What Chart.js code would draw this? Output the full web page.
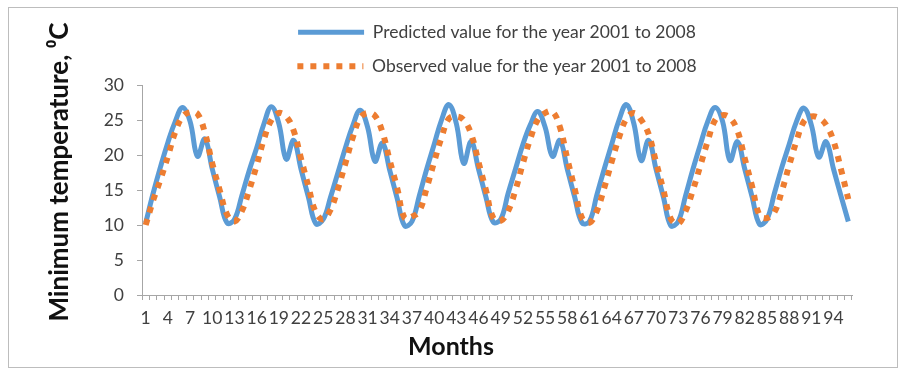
<!DOCTYPE html>
<html>
<head>
<meta charset="utf-8">
<script src="https://cdn.jsdelivr.net/npm/chart.js@4.4.1/dist/chart.umd.min.js"></script>
<style>
  html, body { margin: 0; padding: 0; background: #ffffff; }
  #wrap { position: relative; width: 904px; height: 372px; }
  #frame { position: absolute; left: 8px; top: 7px; width: 890px; height: 361px;
           border: 1px solid #bdbdbd; box-sizing: border-box; }
  canvas { position: absolute; left: 0; top: 0; }
</style>
</head>
<body>
<div id="wrap">
  <div id="frame"></div>
  <canvas id="chart" width="904" height="372"></canvas>
</div>
<script>
// Monthly minimum temperature (°C), January 2001 .. December 2008
const months = Array.from({ length: 96 }, (_, i) => String(i + 1));

const predicted = [
  10.3, 14.5, 18.3, 21.8, 24.8, 26.8, 24.8, 19.8, 22.3, 18.0, 14.0, 10.3,
  10.8, 14.2, 17.8, 21.0, 24.5, 26.9, 24.5, 19.4, 22.1, 18.0, 14.0, 10.2,
  10.8, 14.0, 17.5, 21.0, 24.2, 26.4, 24.0, 19.1, 21.7, 17.8, 13.8,  9.9,
  10.5, 14.2, 18.0, 21.5, 25.0, 27.2, 24.5, 18.8, 21.9, 18.0, 14.0, 10.4,
  10.8, 14.5, 18.0, 21.5, 24.3, 26.2, 24.0, 19.8, 22.1, 18.0, 14.0, 10.3,
  10.5, 14.3, 18.0, 21.5, 25.0, 27.2, 24.5, 19.2, 22.1, 18.0, 14.0,  9.9,
  10.5, 14.2, 18.0, 21.5, 24.8, 26.8, 24.8, 19.2, 21.9, 18.0, 14.0, 10.1,
  10.8, 14.5, 18.2, 21.5, 24.8, 26.7, 24.3, 19.7, 21.9, 18.0, 14.2, 10.5
];

const observed = [
  10.0, 13.5, 16.5, 19.8, 23.3, 25.5, 26.1, 25.9, 23.2, 18.8, 15.0, 11.5,
  10.5, 12.0, 15.0, 18.5, 22.3, 25.0, 26.0, 25.5, 23.5, 19.5, 15.5, 11.8,
  10.8, 12.2, 15.2, 18.8, 22.5, 25.3, 26.0, 25.6, 23.3, 19.2, 15.3, 11.0,
  11.2, 12.0, 15.3, 19.0, 22.5, 25.2, 25.5, 25.0, 23.0, 19.0, 15.0, 11.0,
  10.6, 12.0, 15.0, 18.8, 22.3, 25.0, 26.0, 26.2, 24.0, 19.5, 15.2, 11.0,
  10.3, 12.0, 15.3, 19.0, 22.5, 25.2, 26.0, 25.0, 23.0, 19.0, 15.0, 10.9,
  10.2, 12.0, 15.0, 18.5, 22.0, 25.0, 25.7, 25.3, 23.5, 19.5, 15.5, 11.4,
  11.0, 11.8, 14.8, 18.5, 22.0, 24.8, 25.5, 25.3, 24.3, 22.0, 18.0, 13.7
];

const yTicks = [0, 5, 10, 15, 20, 25, 30];
const seriesNames = [
  'Predicted value for the year 2001 to 2008',
  'Observed value for the year 2001 to 2008'
];
const xTitle = 'Months';
const yTitle = 'Minimum temperature, \u2070C';

const FONT = "Lato, 'DejaVu Sans', sans-serif";
const AXIS_GREY = '#a6a6a6';
const TEXT = '#404040';

// Axis titles are centred on the whole figure rather than on the plot area
const axisTitles = {
  id: 'axisTitles',
  afterDraw(chart) {
    const ctx = chart.ctx;
    ctx.save();
    ctx.fillStyle = '#111111';
    ctx.font = "bold 25px " + FONT;
    ctx.textAlign = 'center';
    ctx.textBaseline = 'alphabetic';
    ctx.fillText(xTitle, 451, 355);
    ctx.translate(68, 172);
    ctx.rotate(-Math.PI / 2);
    ctx.font = "bold 26px " + FONT;
    ctx.fillText(yTitle, 0, 0);
    ctx.restore();
  }
};

new Chart(document.getElementById('chart'), {
  type: 'line',
  data: {
    labels: months,
    datasets: [
      {
        label: seriesNames[0],
        data: predicted,
        borderColor: '#5b9bd5',
        backgroundColor: '#5b9bd5',
        borderWidth: 5,
        tension: 0.4,
        pointRadius: 0,
        pointHoverRadius: 0,
        fill: false,
        order: 1
      },
      {
        label: seriesNames[1],
        data: observed,
        borderColor: '#ed7d31',
        backgroundColor: '#ed7d31',
        borderWidth: 6,
        borderDash: [6, 7],
        borderCapStyle: 'butt',
        tension: 0.4,
        pointRadius: 0,
        pointHoverRadius: 0,
        fill: false,
        order: 0
      }
    ]
  },
  options: {
    responsive: false,
    animation: false,
    devicePixelRatio: 1,
    layout: { padding: { top: 7, left: 0, right: 52, bottom: 0 } },
    plugins: {
      tooltip: { enabled: false },
      legend: {
        position: 'top',
        fullSize: false,
        labels: {
          usePointStyle: true,
          pointStyleWidth: 66,
          padding: 16.5,
          color: TEXT,
          font: { family: FONT, size: 17.5 },
          generateLabels: (chart) => chart.data.datasets.map((ds, i) => ({
            text: ds.label,
            fillStyle: ds.borderColor,
            strokeStyle: ds.borderColor,
            lineWidth: ds.borderWidth,
            lineDash: ds.borderDash || [],
            lineCap: 'butt',
            pointStyle: 'line',
            rotation: 0,
            hidden: false,
            fontColor: TEXT,
            datasetIndex: i
          }))
        }
      }
    },
    scales: {
      x: {
        type: 'category',
        offset: true,
        grid: { display: true, drawOnChartArea: false, drawTicks: true, tickLength: 5, color: AXIS_GREY, offset: true },
        border: { display: true, color: AXIS_GREY, width: 1 },
        ticks: {
          autoSkip: false,
          maxRotation: 0,
          minRotation: 0,
          padding: 8,
          color: TEXT,
          font: { family: FONT, size: 17.5 },
          callback: (v, i) => (i % 3 === 0 ? months[i] : '')
        },
        afterFit: (s) => { s.height = 77; }
      },
      y: {
        min: 0,
        max: 30,
        afterBuildTicks: (s) => { s.ticks = yTicks.map(v => ({ value: v })); },
        grid: { display: true, drawOnChartArea: false, drawTicks: true, tickLength: 5, color: AXIS_GREY },
        border: { display: true, color: AXIS_GREY, width: 1 },
        ticks: {
          padding: 13,
          color: TEXT,
          font: { family: FONT, size: 17.5 }
        },
        afterFit: (s) => { s.width = 142; }
      }
    }
  },
  plugins: [axisTitles]
});
</script>
</body>
</html>
